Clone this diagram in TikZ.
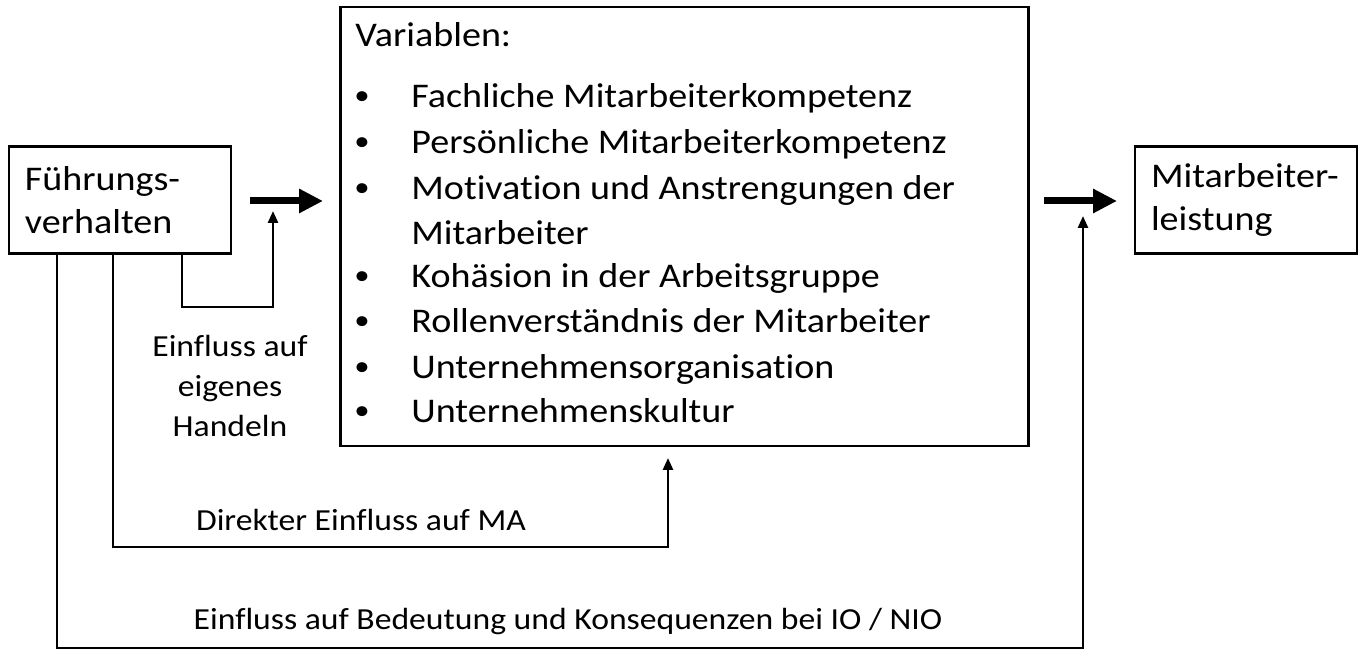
\documentclass[tikz,border=0pt]{standalone}
\usepackage{fontspec}
\setmainfont[FakeStretch=1.1, Ligatures=NoCommon]{Carlito}
\usetikzlibrary{arrows.meta}

\begin{document}
\begin{tikzpicture}[x=0.5pt,y=-0.5pt,
  kasten/.style={draw, line width=1.4pt, inner xsep=8pt, align=left, text width=95pt,
    minimum height=53.5pt, font=\fontsize{17.3}{21.8}\selectfont},
  gross/.style={font=\fontsize{17.3}{22}\selectfont, anchor=base west, inner sep=0pt},
  punkt/.style={font=\fontsize{14}{14}\selectfont, inner sep=0pt},
  klein/.style={font=\fontsize{15.3}{20}\selectfont, align=center},
  fluss/.style={line width=1.3pt, -{Triangle[length=6pt,width=5pt]}},
  dick/.style={line width=3.5pt, -{Triangle[length=12pt,width=11.5pt]}}]

\useasboundingbox (0,0) rectangle (1362,656);

%Kaesten
\node[kasten] (fv) at (120,200) {Führungs-\\verhalten};
\node[kasten] (ml) at (1246,200) {Mitarbeiter-\\leistung};
\node[draw, line width=1.4pt, minimum width=344pt, minimum height=219.5pt] (var) at (684.5,226.5) {};

%Variablen
\node[gross] (v0) at (355,47) {Variablen:};
\foreach \t/\y [count=\i] in {Fachliche Mitarbeiterkompetenz/108,
    Persönliche Mitarbeiterkompetenz/154,
    Motivation und Anstrengungen der/200,
    Kohäsion in der Arbeitsgruppe/288,
    Rollenverständnis der Mitarbeiter/333,
    Unternehmensorganisation/379,
    Unternehmenskultur/423}{
  \node[punkt] (b\i) at (362,\y-10) {\textbullet};
  \node[gross] (v\i) at (411,\y) {\t};
}
\node[gross] (v3b) at (411,245) {Mitarbeiter};

%Dicke Pfeile
\coordinate (p1) at (250,201);
\coordinate (p2) at (323,201);
\draw[dick] (p1) -- (p2);
\coordinate (q1) at (1044,201);
\coordinate (q2) at (1117,201);
\draw[dick] (q1) -- (q2);

%Einfluesse
\coordinate (e1) at (182,307);
\coordinate (e2) at (273,211);
\draw[fluss] (fv.south -| e1) -- (e1) -| (e2);
\node[klein] (l1) at (230,386) {Einfluss auf\\eigenes\\Handeln};

\coordinate (d1) at (113,547);
\coordinate (d2) at (668,458);
\draw[fluss] (fv.south -| d1) -- (d1) -| (d2);
\node[klein] (l2) at (361,520) {Direkter Einfluss auf MA};

\coordinate (k1) at (57,648);
\coordinate (k2) at (1083,216);
\draw[fluss] (fv.south -| k1) -- (k1) -| (k2);
\node[klein] (l3) at (568,622) {Einfluss auf Bedeutung und Konsequenzen bei IO / NIO};
\end{tikzpicture}
\end{document}
